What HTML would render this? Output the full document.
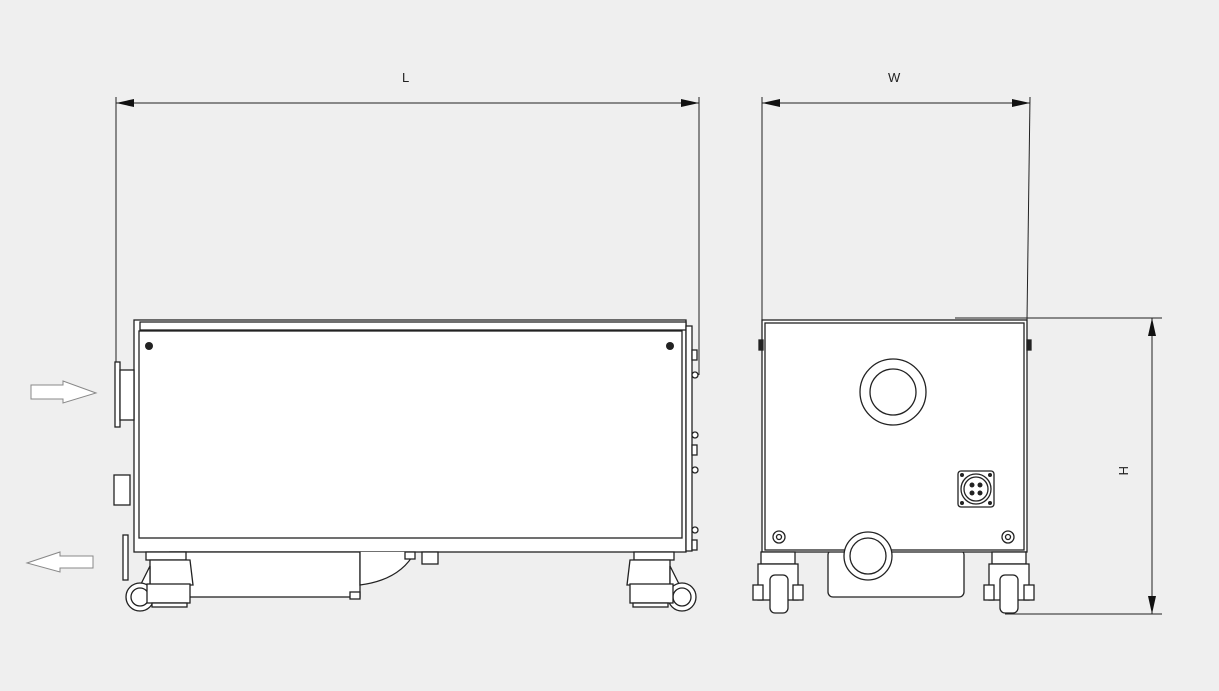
<!DOCTYPE html>
<html><head><meta charset="utf-8"><style>
html,body{margin:0;padding:0;background:#efefef;}
svg{display:block;}
text{font-family:"Liberation Sans",sans-serif;font-size:13px;fill:#222;}
</style></head><body>
<svg width="1219" height="691" viewBox="0 0 1219 691" xmlns="http://www.w3.org/2000/svg">
<g stroke="#222" fill="none" stroke-width="1">
<line x1="116" y1="103" x2="699" y2="103"/>
<line x1="116" y1="97" x2="116" y2="362"/>
<line x1="699" y1="97" x2="699" y2="375"/>
<line x1="762" y1="103" x2="1030" y2="103"/>
<line x1="762" y1="97" x2="762" y2="320"/>
<line x1="1030" y1="97" x2="1027" y2="320"/>
<line x1="1152" y1="318" x2="1152" y2="614"/>
<line x1="955" y1="318" x2="1162" y2="318"/>
<line x1="1005" y1="614" x2="1162" y2="614"/>
</g>
<path d="M762,103 L780,99 L780,107Z M1030,103 L1012,99 L1012,107Z M116,103 L134,99 L134,107Z M699,103 L681,99 L681,107Z M1152,318 L1148,336 L1156,336Z M1152,614 L1148,596 L1156,596Z" fill="#111"/>
<text x="402" y="82">L</text>
<text x="888" y="82">W</text>
<text x="1120" y="475" transform="rotate(90 1124 470)">H</text>

<path d="M31,385 H63 V381 L96,393 L63,403 V399 H31 Z" fill="#fff" stroke="#888"/>
<path d="M93,556 H60 V552 L27,563 L60,572 V568 H93 Z" fill="#fff" stroke="#888"/>

<g stroke="#222" fill="#fff" stroke-width="1.3">
<rect x="134" y="320" width="552" height="232"/>
<rect x="140" y="322" width="546" height="8" fill="#fff"/>
<rect x="139" y="331" width="543" height="207"/>
<rect x="686" y="326" width="6" height="225"/>
<rect x="692" y="350" width="5" height="10"/><rect x="692" y="445" width="5" height="10"/><rect x="692" y="540" width="5" height="10"/>
<circle cx="695" cy="375" r="3"/><circle cx="695" cy="435" r="3"/><circle cx="695" cy="470" r="3"/><circle cx="695" cy="530" r="3"/>
<rect x="115" y="362" width="5" height="65"/>
<rect x="120" y="370" width="14" height="50"/>
<rect x="114" y="475" width="16" height="30"/>
<rect x="123" y="535" width="5" height="45"/>
<rect x="170" y="552" width="190" height="45"/>
<rect x="350" y="592" width="10" height="7"/>
<path d="M360,552 V585 Q400,580 415,552" />
<rect x="405" y="552" width="10" height="7"/>
<rect x="422" y="552" width="16" height="12"/>
<!-- left caster -->
<rect x="146" y="552" width="40" height="8"/>
<path d="M150,560 L190,560 L193,585 L150,585 Z"/>
<path d="M150,566 L138,590 L150,590 Z"/>
<circle cx="140" cy="597" r="14"/><circle cx="140" cy="597" r="9"/>
<rect x="147" y="584" width="43" height="19"/>
<rect x="152" y="603" width="35" height="4"/>
<!-- right caster -->
<rect x="634" y="552" width="40" height="8"/>
<path d="M630,560 L670,560 L670,585 L627,585 Z"/>
<path d="M670,566 L682,590 L670,590 Z"/>
<circle cx="682" cy="597" r="14"/><circle cx="682" cy="597" r="9"/>
<rect x="630" y="584" width="43" height="19"/>
<rect x="633" y="603" width="35" height="4"/>
</g>
<g fill="#222"><circle cx="149" cy="346" r="4"/><circle cx="670" cy="346" r="4"/></g>

<g stroke="#222" fill="#fff" stroke-width="1.3">
<rect x="828" y="550" width="136" height="47" rx="5"/>
<rect x="762" y="320" width="265" height="232"/>
<rect x="765" y="323" width="259" height="227"/>
<rect x="759" y="340" width="4" height="10" fill="#222"/>
<rect x="1027" y="340" width="4" height="10" fill="#222"/>
<circle cx="893" cy="392" r="33"/><circle cx="893" cy="392" r="23"/>
<circle cx="868" cy="556" r="24"/><circle cx="868" cy="556" r="18"/>
<rect x="958" y="471" width="36" height="36" rx="3"/>
<circle cx="976" cy="489" r="15"/><circle cx="976" cy="489" r="12"/>
<circle cx="779" cy="537" r="6"/><circle cx="779" cy="537" r="2.5"/>
<circle cx="1008" cy="537" r="6"/><circle cx="1008" cy="537" r="2.5"/>
<rect x="761" y="552" width="34" height="12"/>
<rect x="758" y="564" width="40" height="36"/>
<rect x="753" y="585" width="10" height="15"/><rect x="793" y="585" width="10" height="15"/>
<rect x="770" y="575" width="18" height="38" rx="5"/>
<rect x="992" y="552" width="34" height="12"/>
<rect x="989" y="564" width="40" height="36"/>
<rect x="984" y="585" width="10" height="15"/><rect x="1024" y="585" width="10" height="15"/>
<rect x="1000" y="575" width="18" height="38" rx="5"/>
</g>
<g fill="#222">
<circle cx="972" cy="485" r="2.5"/><circle cx="980" cy="485" r="2.5"/><circle cx="972" cy="493" r="2.5"/><circle cx="980" cy="493" r="2.5"/>
<circle cx="962" cy="475" r="2"/><circle cx="990" cy="475" r="2"/><circle cx="962" cy="503" r="2"/><circle cx="990" cy="503" r="2"/>
</g>
</svg>
</body></html>
